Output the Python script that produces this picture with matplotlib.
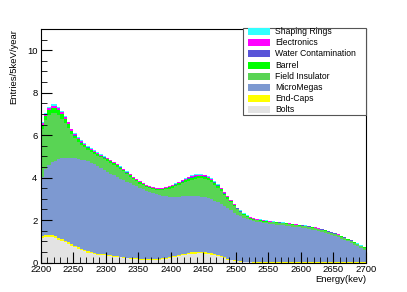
import numpy as np
import matplotlib
matplotlib.use("Agg")
import matplotlib.pyplot as plt
from matplotlib.patches import Rectangle

plt.rcParams['font.family'] = ['Liberation Sans', 'DejaVu Sans']

# ---- data: 5 keV bins from 2200 to 2700 keV ----
bin_edges_start = 2200
bin_edges_stop = 2700
bin_width = 5

labels = ["Bolts", "End-Caps", "MicroMegas", "Field Insulator", "Barrel",
          "Water Contamination", "Electronics", "Shaping Rings"]
colors = ["#e3e3e3", "#ffff00", "#7d99d1", "#59d454", "#00ff00",
          "#5954d8", "#ff00ff", "#33ffff"]

bolts = [1.15, 1.19, 1.20, 1.18, 1.14, 1.08, 1.02, 0.95, 0.87, 0.79,
         0.71, 0.64, 0.58, 0.52, 0.47, 0.43, 0.40, 0.37, 0.35, 0.33,
         0.31, 0.29, 0.27, 0.26, 0.24, 0.22, 0.20, 0.18, 0.17, 0.16,
         0.14, 0.13, 0.12, 0.12, 0.12, 0.13, 0.14, 0.16, 0.18, 0.21,
         0.24, 0.27, 0.30, 0.33, 0.36, 0.39, 0.41, 0.42, 0.43, 0.43,
         0.42, 0.40, 0.37, 0.33, 0.29, 0.24, 0.19, 0.14, 0.10, 0.07,
         0.05, 0.03, 0.02, 0.01, 0.01, 0.00, 0.00, 0.00, 0.00, 0.00,
         0.00, 0.00, 0.00, 0.00, 0.00, 0.00, 0.00, 0.00, 0.00, 0.00,
         0.00, 0.00, 0.00, 0.00, 0.00, 0.00, 0.00, 0.00, 0.00, 0.00,
         0.00, 0.00, 0.00, 0.00, 0.00, 0.00, 0.00, 0.00, 0.00, 0.00]

end_caps = [0.10, 0.10, 0.10, 0.10, 0.09, 0.09, 0.09, 0.08, 0.08, 0.08,
            0.07, 0.07, 0.07, 0.06, 0.06, 0.06, 0.05, 0.05, 0.05, 0.05,
            0.04, 0.04, 0.04, 0.04, 0.04, 0.03, 0.03, 0.03, 0.03, 0.03,
            0.03, 0.03, 0.03, 0.03, 0.03, 0.03, 0.03, 0.04, 0.04, 0.04,
            0.05, 0.05, 0.05, 0.06, 0.06, 0.06, 0.07, 0.07, 0.07, 0.07,
            0.07, 0.07, 0.07, 0.06, 0.06, 0.05, 0.05, 0.04, 0.04, 0.03,
            0.03, 0.02, 0.02, 0.02, 0.01, 0.01, 0.01, 0.01, 0.01, 0.01,
            0.01, 0.01, 0.01, 0.01, 0.01, 0.01, 0.01, 0.01, 0.01, 0.01,
            0.01, 0.01, 0.01, 0.01, 0.01, 0.01, 0.01, 0.01, 0.01, 0.01,
            0.01, 0.01, 0.01, 0.01, 0.01, 0.01, 0.01, 0.01, 0.01, 0.01]

micromegas = [2.80, 3.11, 3.30, 3.44, 3.57, 3.69, 3.79, 3.90, 3.99, 4.07,
              4.14, 4.18, 4.20, 4.23, 4.23, 4.22, 4.17, 4.13, 4.07, 4.00,
              3.93, 3.86, 3.79, 3.72, 3.67, 3.63, 3.58, 3.53, 3.46, 3.40,
              3.35, 3.29, 3.23, 3.17, 3.11, 3.05, 3.00, 2.94, 2.89, 2.85,
              2.80, 2.77, 2.75, 2.72, 2.70, 2.68, 2.65, 2.64, 2.62, 2.60,
              2.58, 2.56, 2.54, 2.53, 2.49, 2.46, 2.41, 2.37, 2.31, 2.25,
              2.18, 2.13, 2.07, 2.02, 1.98, 1.95, 1.91, 1.88, 1.86, 1.84,
              1.82, 1.80, 1.78, 1.76, 1.74, 1.72, 1.70, 1.68, 1.66, 1.64,
              1.62, 1.60, 1.57, 1.54, 1.51, 1.47, 1.43, 1.39, 1.34, 1.29,
              1.24, 1.18, 1.12, 1.05, 0.98, 0.91, 0.83, 0.75, 0.67, 0.60]

field_insulator = [2.25, 2.30, 2.35, 2.33, 2.25, 2.09, 1.88, 1.64, 1.41, 1.11,
                   0.93, 0.79, 0.69, 0.61, 0.55, 0.50, 0.50, 0.48, 0.48, 0.49,
                   0.52, 0.52, 0.51, 0.49, 0.45, 0.41, 0.36, 0.31, 0.27, 0.23,
                   0.20, 0.18, 0.17, 0.17, 0.18, 0.20, 0.23, 0.27, 0.33, 0.38,
                   0.44, 0.50, 0.56, 0.62, 0.68, 0.73, 0.78, 0.82, 0.85, 0.87,
                   0.87, 0.85, 0.81, 0.75, 0.69, 0.62, 0.54, 0.46, 0.38, 0.31,
                   0.24, 0.18, 0.13, 0.09, 0.07, 0.06, 0.06, 0.06, 0.06, 0.06,
                   0.07, 0.08, 0.09, 0.09, 0.09, 0.09, 0.09, 0.09, 0.09, 0.09,
                   0.09, 0.09, 0.09, 0.09, 0.09, 0.09, 0.09, 0.09, 0.09, 0.09,
                   0.09, 0.09, 0.09, 0.09, 0.09, 0.09, 0.09, 0.09, 0.08, 0.08]

barrel = [0.18, 0.20, 0.22, 0.23, 0.23, 0.22, 0.20, 0.18, 0.16, 0.14,
          0.13, 0.12, 0.11, 0.10, 0.09, 0.09, 0.08, 0.08, 0.07, 0.07,
          0.07, 0.06, 0.06, 0.06, 0.06, 0.05, 0.05, 0.05, 0.05, 0.05,
          0.05, 0.05, 0.05, 0.05, 0.05, 0.05, 0.05, 0.05, 0.05, 0.06,
          0.06, 0.07, 0.07, 0.08, 0.08, 0.09, 0.09, 0.10, 0.10, 0.10,
          0.10, 0.09, 0.09, 0.08, 0.08, 0.07, 0.06, 0.06, 0.05, 0.05,
          0.04, 0.04, 0.03, 0.03, 0.03, 0.03, 0.03, 0.03, 0.03, 0.03,
          0.02, 0.02, 0.02, 0.02, 0.02, 0.02, 0.02, 0.02, 0.02, 0.02,
          0.02, 0.02, 0.02, 0.02, 0.02, 0.02, 0.02, 0.02, 0.02, 0.02,
          0.02, 0.02, 0.02, 0.02, 0.02, 0.02, 0.02, 0.02, 0.02, 0.02]

water = [0.02, 0.02, 0.02, 0.02, 0.02, 0.02, 0.02, 0.02, 0.02, 0.02,
         0.02, 0.02, 0.02, 0.02, 0.02, 0.02, 0.02, 0.02, 0.02, 0.02,
         0.02, 0.02, 0.02, 0.02, 0.02, 0.02, 0.02, 0.02, 0.02, 0.02,
         0.02, 0.02, 0.02, 0.02, 0.02, 0.02, 0.02, 0.02, 0.02, 0.02,
         0.02, 0.02, 0.02, 0.02, 0.02, 0.02, 0.02, 0.02, 0.02, 0.02,
         0.02, 0.02, 0.02, 0.02, 0.02, 0.02, 0.02, 0.02, 0.02, 0.02,
         0.01, 0.01, 0.01, 0.01, 0.01, 0.01, 0.01, 0.01, 0.01, 0.01,
         0.01, 0.01, 0.01, 0.01, 0.01, 0.01, 0.01, 0.01, 0.01, 0.01,
         0.01, 0.01, 0.01, 0.01, 0.01, 0.01, 0.01, 0.01, 0.01, 0.01,
         0.01, 0.01, 0.01, 0.01, 0.01, 0.01, 0.01, 0.01, 0.01, 0.01]

electronics = [0.07, 0.08, 0.09, 0.09, 0.09, 0.08, 0.08, 0.07, 0.07, 0.06,
               0.06, 0.05, 0.05, 0.05, 0.04, 0.04, 0.04, 0.04, 0.03, 0.03,
               0.03, 0.03, 0.03, 0.03, 0.03, 0.03, 0.03, 0.03, 0.03, 0.03,
               0.03, 0.03, 0.03, 0.03, 0.03, 0.03, 0.03, 0.03, 0.03, 0.03,
               0.03, 0.03, 0.04, 0.04, 0.04, 0.05, 0.05, 0.05, 0.05, 0.05,
               0.05, 0.05, 0.04, 0.04, 0.04, 0.03, 0.03, 0.03, 0.03, 0.02,
               0.02, 0.02, 0.02, 0.02, 0.02, 0.02, 0.02, 0.02, 0.02, 0.02,
               0.01, 0.01, 0.01, 0.01, 0.01, 0.01, 0.01, 0.01, 0.01, 0.01,
               0.01, 0.01, 0.01, 0.01, 0.01, 0.01, 0.01, 0.01, 0.01, 0.01,
               0.01, 0.01, 0.01, 0.01, 0.01, 0.01, 0.01, 0.01, 0.01, 0.01]

shaping_rings = [0.04, 0.05, 0.05, 0.06, 0.06, 0.05, 0.05, 0.04, 0.04, 0.04,
                 0.03, 0.03, 0.03, 0.03, 0.03, 0.03, 0.03, 0.03, 0.03, 0.03,
                 0.02, 0.02, 0.02, 0.02, 0.02, 0.02, 0.02, 0.02, 0.02, 0.02,
                 0.02, 0.02, 0.02, 0.02, 0.02, 0.02, 0.02, 0.02, 0.02, 0.02,
                 0.02, 0.02, 0.02, 0.02, 0.02, 0.03, 0.03, 0.03, 0.03, 0.03,
                 0.03, 0.03, 0.03, 0.03, 0.03, 0.02, 0.02, 0.02, 0.02, 0.02,
                 0.02, 0.02, 0.02, 0.02, 0.02, 0.02, 0.02, 0.02, 0.02, 0.02,
                 0.01, 0.01, 0.01, 0.01, 0.01, 0.01, 0.01, 0.01, 0.01, 0.01,
                 0.01, 0.01, 0.01, 0.01, 0.01, 0.01, 0.01, 0.01, 0.01, 0.01,
                 0.01, 0.01, 0.01, 0.01, 0.01, 0.01, 0.01, 0.01, 0.01, 0.01]

series = [bolts, end_caps, micromegas, field_insulator, barrel,
          water, electronics, shaping_rings]

x_ticks = [2200, 2250, 2300, 2350, 2400, 2450, 2500, 2550, 2600, 2650, 2700]
y_ticks = [0, 2, 4, 6, 8, 10]

# ---- figure ----
W, H = 407, 292
fig = plt.figure(figsize=(W / 100, H / 100), dpi=100)
fig.patch.set_facecolor("white")

def fx(px):
    return px / W

def fy(py):
    return 1 - py / H

ax_l, ax_r, ax_t, ax_b = 41, 366, 29, 262.5
ax = fig.add_axes([fx(ax_l), fy(ax_b), fx(ax_r) - fx(ax_l), fy(ax_t) - fy(ax_b)])

edges = np.arange(bin_edges_start, bin_edges_stop + bin_width, bin_width)
cum = np.cumsum(np.array(series, dtype=float), axis=0)
# draw stacked histograms as ROOT does: top-most cumulative first, each from zero
for k in range(len(series) - 1, -1, -1):
    ax.stairs(cum[k], edges, baseline=0, fill=True, color=colors[k],
              linewidth=0, antialiased=False, zorder=2)

ax.set_xlim(2200, 2700)
ax.set_ylim(0, 11)
ax.set_xticks(x_ticks)
ax.set_xticklabels([str(v) for v in x_ticks])
ax.set_yticks(y_ticks)
ax.set_yticklabels([str(v) for v in y_ticks])
ax.set_xticks(np.arange(2200, 2701, 10), minor=True)
ax.set_yticks(np.arange(0, 11.01, 0.5), minor=True)
ax.tick_params(axis="both", which="major", direction="in", length=8, width=0.8,
               labelsize=6.8, colors="black", pad=2.5)
ax.tick_params(axis="both", which="minor", direction="in", length=4, width=0.6)
ax.tick_params(axis="x", which="major", pad=2)
for s in ax.spines.values():
    s.set_linewidth(0.8)
    s.set_color("black")
    s.set_zorder(5)
ax.set_axisbelow(False)

fig.text(fx(366), fy(281.5), "Energy(kev)", ha="right", va="baseline", fontsize=6.8)
fig.text(fx(14), fy(29), "Entries/5keV/year", ha="center", va="top",
         rotation=90, fontsize=6.8)

# ---- legend (ROOT TLegend style) ----
leg_l, leg_r, leg_t, leg_b = 243, 366, 28, 114.5
fig.add_artist(Rectangle((fx(leg_l), fy(leg_b)), fx(leg_r) - fx(leg_l),
                         fy(leg_t) - fy(leg_b), transform=fig.transFigure,
                         facecolor="white", edgecolor="#555555", linewidth=0.8,
                         zorder=10))
row0, drow = 31.5, 11.2
for j, k in enumerate(range(len(series) - 1, -1, -1)):
    yc = row0 + j * drow
    fig.add_artist(Rectangle((fx(248), fy(yc + 3.5)), fx(270) - fx(248),
                             fy(yc - 3.5) - fy(yc + 3.5), transform=fig.transFigure,
                             facecolor=colors[k], edgecolor="none", zorder=11))
    fig.text(fx(275), fy(yc), labels[k], ha="left", va="center",
             fontsize=6.2, zorder=12)

fig.savefig("out.png", dpi=100, facecolor="white")
